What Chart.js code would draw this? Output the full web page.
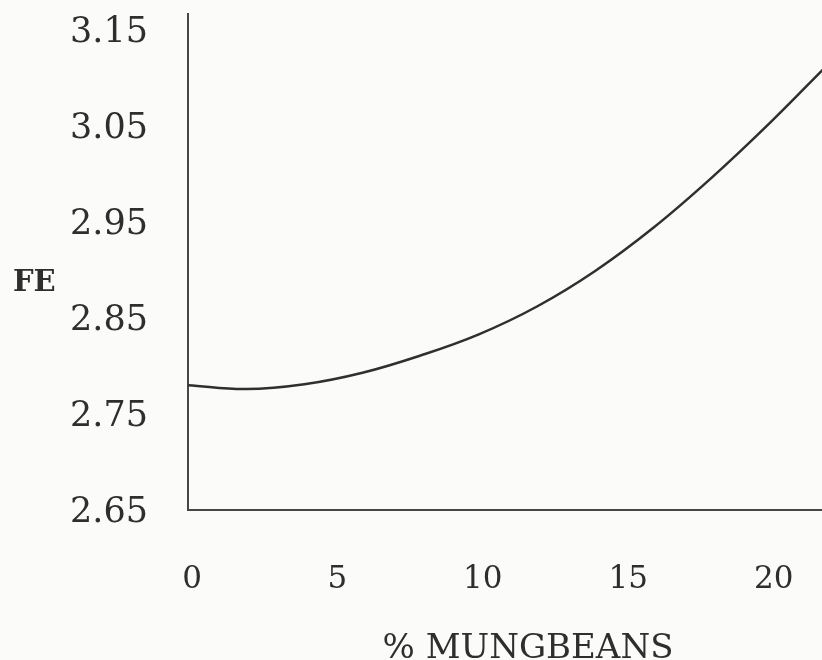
<!DOCTYPE html>
<html>
<head>
<meta charset="utf-8">
<script src="https://cdn.jsdelivr.net/npm/chart.js@4/dist/chart.umd.min.js"></script>
<style>
  html, body { margin: 0; padding: 0; background: #fbfbfa; }
  #wrap { width: 822px; height: 660px; }
</style>
</head>
<body>
<div id="wrap"><canvas id="fe"></canvas></div>
<script>
// Feed efficiency (FE) against percent mungbeans in the ration
const mungbeanPct = [0, 2, 4, 6, 8, 10, 12, 14, 16, 18, 20, 22];
const feValues   = [2.780, 2.776, 2.781, 2.793, 2.811, 2.833, 2.862, 2.899, 2.944, 2.996, 3.053, 3.114];

const yTickValues = [2.65, 2.75, 2.85, 2.95, 3.05, 3.15];
const xTickValues = [0, 5, 10, 15, 20];

const yTitle = 'FE';
const xTitle = '% MUNGBEANS';

const ink = '#2e2e2e';
const serif = '"DejaVu Serif", "Liberation Serif", serif';

// Axis titles: the FE label sits upright beside the y axis
const axisTitles = {
  id: 'axisTitles',
  afterDraw(chart) {
    const { ctx, chartArea } = chart;
    ctx.save();
    ctx.fillStyle = ink;
    ctx.font = 'bold 29px ' + serif;
    ctx.textAlign = 'left';
    ctx.textBaseline = 'middle';
    ctx.fillText(yTitle, chartArea.left - 175, 283);
    ctx.font = '34px ' + serif;
    ctx.textAlign = 'center';
    ctx.textBaseline = 'alphabetic';
    ctx.fillText(xTitle, chartArea.left + 340, 658);
    ctx.restore();
  }
};

new Chart(document.getElementById('fe'), {
  type: 'line',
  data: {
    datasets: [{
      data: mungbeanPct.map((x, i) => ({ x, y: feValues[i] })),
      borderColor: '#2f2f2f',
      borderWidth: 2.5,
      pointRadius: 0,
      fill: false,
      tension: 0.4
    }]
  },
  options: {
    responsive: true,
    maintainAspectRatio: false,
    animation: false,
    layout: { padding: { top: 14, left: 0, right: 0, bottom: 0 } },
    plugins: { legend: { display: false }, tooltip: { enabled: false } },
    scales: {
      x: {
        type: 'linear',
        min: 0,
        max: 21.8,
        grid: { display: false, drawTicks: false },
        border: { display: true, color: '#474747', width: 2 },
        afterBuildTicks(scale) { scale.ticks = xTickValues.map(v => ({ value: v })); },
        afterFit(scale) {
          scale.height = 150;
          scale.paddingLeft = 0; scale.paddingRight = 0;
        },
        ticks: {
          color: ink,
          font: { family: serif, size: 31 },
          padding: 51,
          labelOffset: 4,
          maxRotation: 0,
          autoSkip: false,
          callback: v => String(v)
        }
      },
      y: {
        type: 'linear',
        min: 2.65,
        max: 3.1667,
        grid: { display: false, drawTicks: false },
        border: { display: true, color: '#474747', width: 2 },
        afterBuildTicks(scale) { scale.ticks = yTickValues.map(v => ({ value: v })); },
        afterFit(scale) {
          scale.width = 188;
          scale.paddingTop = 0; scale.paddingBottom = 0;
        },
        ticks: {
          color: ink,
          font: { family: serif, size: 35 },
          padding: 40,
          labelOffset: 3,
          autoSkip: false,
          callback: v => Number(v).toFixed(2)
        }
      }
    }
  },
  plugins: [axisTitles]
});
</script>
</body>
</html>
